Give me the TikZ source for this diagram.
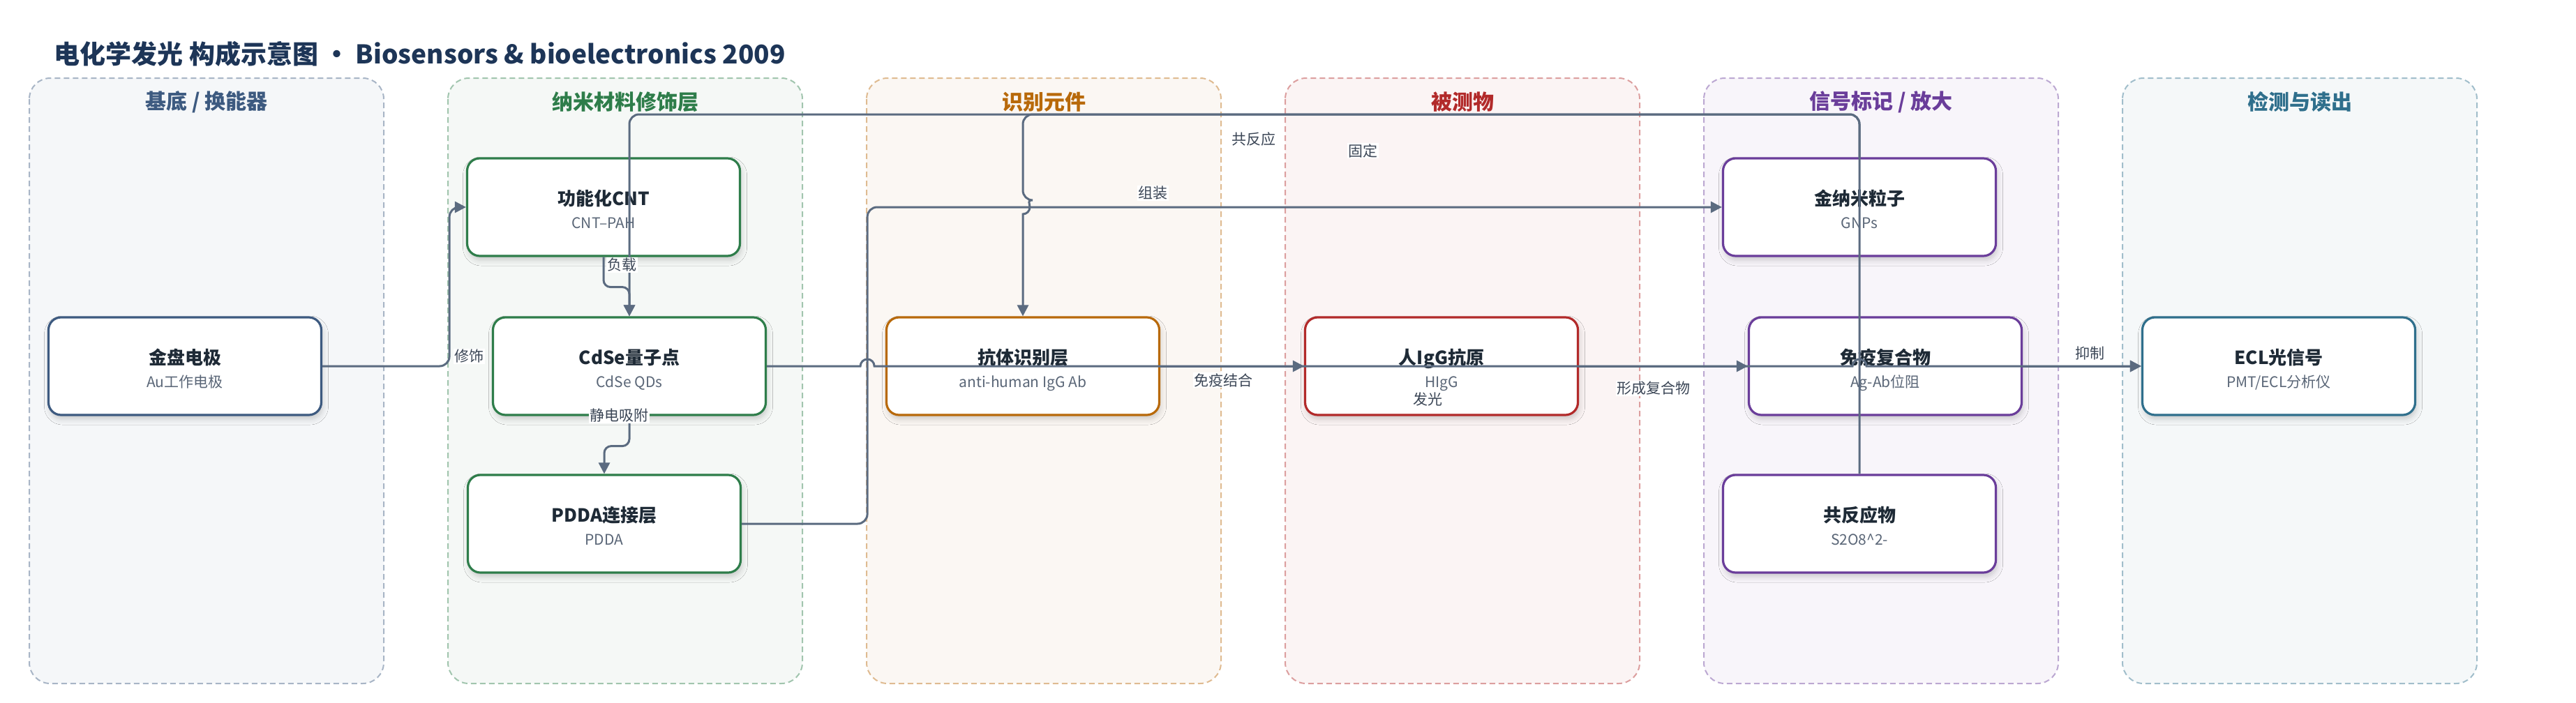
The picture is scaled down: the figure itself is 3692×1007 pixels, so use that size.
\documentclass[tikz,border=0pt]{standalone}
\usepackage{fontspec}
\setmainfont{Noto Sans CJK SC}
\usetikzlibrary{arrows.meta,shadows.blur}

\definecolor{cslate}{HTML}{3D5A80}
\definecolor{cgreen}{HTML}{2E7D4A}
\definecolor{corange}{HTML}{B8690A}
\definecolor{cred}{HTML}{B22A2A}
\definecolor{cpurple}{HTML}{6A3D9A}
\definecolor{cteal}{HTML}{2F6F8C}
\definecolor{cedge}{HTML}{5B6B80}
\definecolor{cink}{HTML}{1E2A36}
\definecolor{cgray}{HTML}{5A6677}
\definecolor{cnavy}{HTML}{1D3557}
\definecolor{clabel}{HTML}{3B4656}

\begin{document}
\begin{tikzpicture}[x=1pt, y=-1pt,
    lane/.style={draw=#1!45, fill=#1!5, line width=2pt, dash pattern=on 8pt off 5pt, rounded corners=30pt},
    lanetitle/.style={text=#1, font=\fontsize{30}{36}\selectfont\bfseries},
    ecbox/.style={draw=#1, fill=white, line width=3.2pt, rounded corners=18pt, minimum width=391pt, minimum height=140pt,
      blur shadow={shadow xshift=2pt, shadow yshift=-6pt, shadow opacity=18, shadow blur radius=8pt}},
    ntitle/.style={anchor=base, text=cink, font=\fontsize{26}{30}\selectfont\bfseries},
    nsub/.style={anchor=base, text=cgray, font=\fontsize{21}{25}\selectfont},
    conn/.style={draw=cedge, line width=3pt, -{Triangle[length=16pt,width=16pt]}},
    elabel/.style={text=clabel, fill=white, inner sep=1.5pt, font=\fontsize{21}{25}\selectfont}]

    \useasboundingbox (0,0) rectangle (3692,1007);

    \node [anchor=west, text=cnavy, font=\fontsize{37}{44}\selectfont\bfseries] (title) at (74,77) {电化学发光 构成示意图 · Biosensors \& bioelectronics 2009};

    \draw [lane=cslate] (42,112) rectangle (550,980);
    \draw [lane=cgreen] (642,112) rectangle (1150,980);
    \draw [lane=corange] (1242,112) rectangle (1750,980);
    \draw [lane=cred] (1842,112) rectangle (2350,980);
    \draw [lane=cpurple] (2442,112) rectangle (2950,980);
    \draw [lane=cteal] (3042,112) rectangle (3550,980);

    \node [lanetitle=cslate] (lane1) at (296,146) {基底 / 换能器};
    \node [lanetitle=cgreen] (lane2) at (896,146) {纳米材料修饰层};
    \node [lanetitle=corange] (lane3) at (1496,146) {识别元件};
    \node [lanetitle=cred] (lane4) at (2096,146) {被测物};
    \node [lanetitle=cpurple] (lane5) at (2696,146) {信号标记 / 放大};
    \node [lanetitle=cteal] (lane6) at (3296,146) {检测与读出};

    \node [ecbox=cslate] (au) at (265,525) {};
    \node [ntitle] (au-t) at ([yshift=3pt]au.center) {金盘电极};
    \node [nsub] (au-s) at ([yshift=-30pt]au.center) {Au工作电极};

    \node [ecbox=cgreen] (cnt) at (865,297) {};
    \node [ntitle] (cnt-t) at ([yshift=3pt]cnt.center) {功能化CNT};
    \node [nsub] (cnt-s) at ([yshift=-30pt]cnt.center) {CNT–PAH};

    \node [ecbox=cgreen] (cdse) at (902,525) {};
    \node [ntitle] (cdse-t) at ([yshift=3pt]cdse.center) {CdSe量子点};
    \node [nsub] (cdse-s) at ([yshift=-30pt]cdse.center) {CdSe QDs};

    \node [ecbox=cgreen] (pdda) at (866,751) {};
    \node [ntitle] (pdda-t) at ([yshift=3pt]pdda.center) {PDDA连接层};
    \node [nsub] (pdda-s) at ([yshift=-30pt]pdda.center) {PDDA};

    \node [ecbox=corange] (ab) at (1466,525) {};
    \node [ntitle] (ab-t) at ([yshift=3pt]ab.center) {抗体识别层};
    \node [nsub] (ab-s) at ([yshift=-30pt]ab.center) {anti-human IgG Ab};

    \node [ecbox=cred] (igg) at (2066,525) {};
    \node [ntitle] (igg-t) at ([yshift=3pt]igg.center) {人IgG抗原};
    \node [nsub] (igg-s) at ([yshift=-30pt]igg.center) {HIgG};

    \node [ecbox=cpurple] (gnp) at (2665,297) {};
    \node [ntitle] (gnp-t) at ([yshift=3pt]gnp.center) {金纳米粒子};
    \node [nsub] (gnp-s) at ([yshift=-30pt]gnp.center) {GNPs};

    \node [ecbox=cpurple] (cx) at (2702,525) {};
    \node [ntitle] (cx-t) at ([yshift=3pt]cx.center) {免疫复合物};
    \node [nsub] (cx-s) at ([yshift=-30pt]cx.center) {Ag-Ab位阻};

    \node [ecbox=cpurple] (co) at (2665,751) {};
    \node [ntitle] (co-t) at ([yshift=3pt]co.center) {共反应物};
    \node [nsub] (co-s) at ([yshift=-30pt]co.center) {S2O8\textasciicircum 2-};

    \node [ecbox=cteal] (ecl) at (3266,525) {};
    \node [ntitle] (ecl-t) at ([yshift=3pt]ecl.center) {ECL光信号};
    \node [nsub] (ecl-s) at ([yshift=-30pt]ecl.center) {PMT/ECL分析仪};

    \coordinate (top) at (0,164);

    \draw [conn, rounded corners=14pt] (au.east) -- ++(182,0) |- (cnt.west);
    \draw [conn, rounded corners=10pt] (cnt.south) -- ++(0,43) -| (cdse.north);
    \draw [conn, rounded corners=10pt] (cdse.south) -- ++(0,43) -| (pdda.north);
    \draw [conn, rounded corners=14pt] (co.north) -- (co.north |- top) -| (cdse.north);
    \draw [conn, rounded corners=14pt] (pdda.east) -- ++(180,0) coordinate (bend) |- (gnp.west);

    \coordinate (hop1) at (ab.north |- gnp.west);
    \coordinate (hop2) at (bend |- cdse.east);
    \coordinate (hop3) at (co.north |- cdse.east);

    \draw [conn, rounded corners=14pt] (gnp.north) -- (gnp.north |- top) -| ([yshift=10pt]hop1) [sharp corners] arc [start angle=90, end angle=-90, radius=10pt] -- (ab.north);
    \draw [conn] (cdse.east) -- ([xshift=-10pt]hop2) arc [start angle=180, end angle=0, radius=10pt] -- ([xshift=-10pt]hop3) arc [start angle=180, end angle=0, radius=10pt] -- (ecl.west);
    \draw [conn] (ab.east) -- (igg.west);
    \draw [conn] (igg.east) -- (cx.west);
    \draw [conn] (cx.east) -- (ecl.west);

    \node [elabel] (l-xs) at (672,511) {修饰};
    \node [elabel] (l-fz) at (891,380) {负载};
    \node [elabel] (l-jd) at (887,596) {静电吸附};
    \node [elabel] (l-zz) at (1652,277) {组装};
    \node [elabel] (l-gfy) at (1797,200) {共反应};
    \node [elabel] (l-gd) at (1953,216) {固定};
    \node [elabel] (l-my) at (1753,545) {免疫结合};
    \node [elabel] (l-fg) at (2046,573) {发光};
    \node [elabel] (l-xc) at (2370,557) {形成复合物};
    \node [elabel] (l-yz) at (2995,507) {抑制};

\end{tikzpicture}
\end{document}
